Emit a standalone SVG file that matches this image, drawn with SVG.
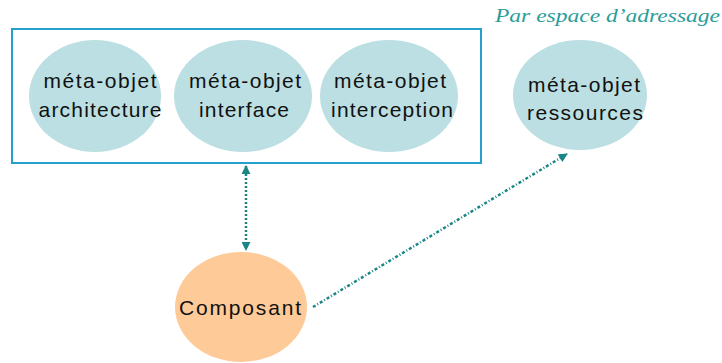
<svg xmlns="http://www.w3.org/2000/svg" width="722" height="363" viewBox="0 0 722 363">
<style>
.meta{fill:#bbdfe2}
.comp{fill:#fecb98}
.t{font-family:"Liberation Sans",Arial,sans-serif;font-size:21px;fill:#111;text-anchor:middle}
.lbl{font-family:"Liberation Serif","Times New Roman",serif;font-style:italic;font-size:18px;fill:#2a9d9a}
.con{fill:none;stroke:#1a8585;stroke-width:2.5}
</style>
<defs>
<marker id="ah" viewBox="0 0 10 10" refX="9" refY="5" markerWidth="3.6" markerHeight="3.6" orient="auto-start-reverse" markerUnits="strokeWidth">
<path d="M0,0 L10,5 L0,10 z" fill="#1a8585"/>
</marker>
</defs>
<rect x="12" y="29" width="469" height="134" fill="#fff" stroke="#22a1cf" stroke-width="2"/>
<g id="n-architecture">
<ellipse class="meta" cx="95" cy="96" rx="66" ry="56"/>
<text class="t" x="100" y="88" textLength="113" lengthAdjust="spacing">méta-objet</text>
<text class="t" x="100" y="117" textLength="123" lengthAdjust="spacing">architecture</text>
</g>
<g id="n-interface">
<ellipse class="meta" cx="243" cy="96" rx="69" ry="56"/>
<text class="t" x="245" y="88" textLength="112" lengthAdjust="spacing">méta-objet</text>
<text class="t" x="244" y="117" textLength="90" lengthAdjust="spacing">interface</text>
</g>
<g id="n-interception">
<ellipse class="meta" cx="389" cy="96" rx="69" ry="56"/>
<text class="t" x="390" y="88" textLength="112" lengthAdjust="spacing">méta-objet</text>
<text class="t" x="392" y="117" textLength="122" lengthAdjust="spacing">interception</text>
</g>
<g id="n-ressources">
<ellipse class="meta" cx="580" cy="95" rx="67" ry="55"/>
<text class="t" x="584" y="92" textLength="112" lengthAdjust="spacing">méta-objet</text>
<text class="t" x="585" y="120" textLength="116" lengthAdjust="spacing">ressources</text>
</g>
<g id="n-composant">
<ellipse class="comp" cx="241" cy="307" rx="66" ry="55"/>
<text class="t" x="240" y="315" textLength="122" lengthAdjust="spacing">Composant</text>
</g>
<g id="label">
<text class="lbl" x="495" y="22" textLength="225" lengthAdjust="spacingAndGlyphs">Par espace d’adressage</text>
</g>
<g id="connectors">
<line class="con" x1="246" y1="166" x2="246" y2="250" stroke-dasharray="2 2" marker-start="url(#ah)" marker-end="url(#ah)"/>
<line class="con" x1="313" y1="307" x2="567" y2="154" stroke-dasharray="3 2 1 2" marker-end="url(#ah)"/>
</g>
</svg>
